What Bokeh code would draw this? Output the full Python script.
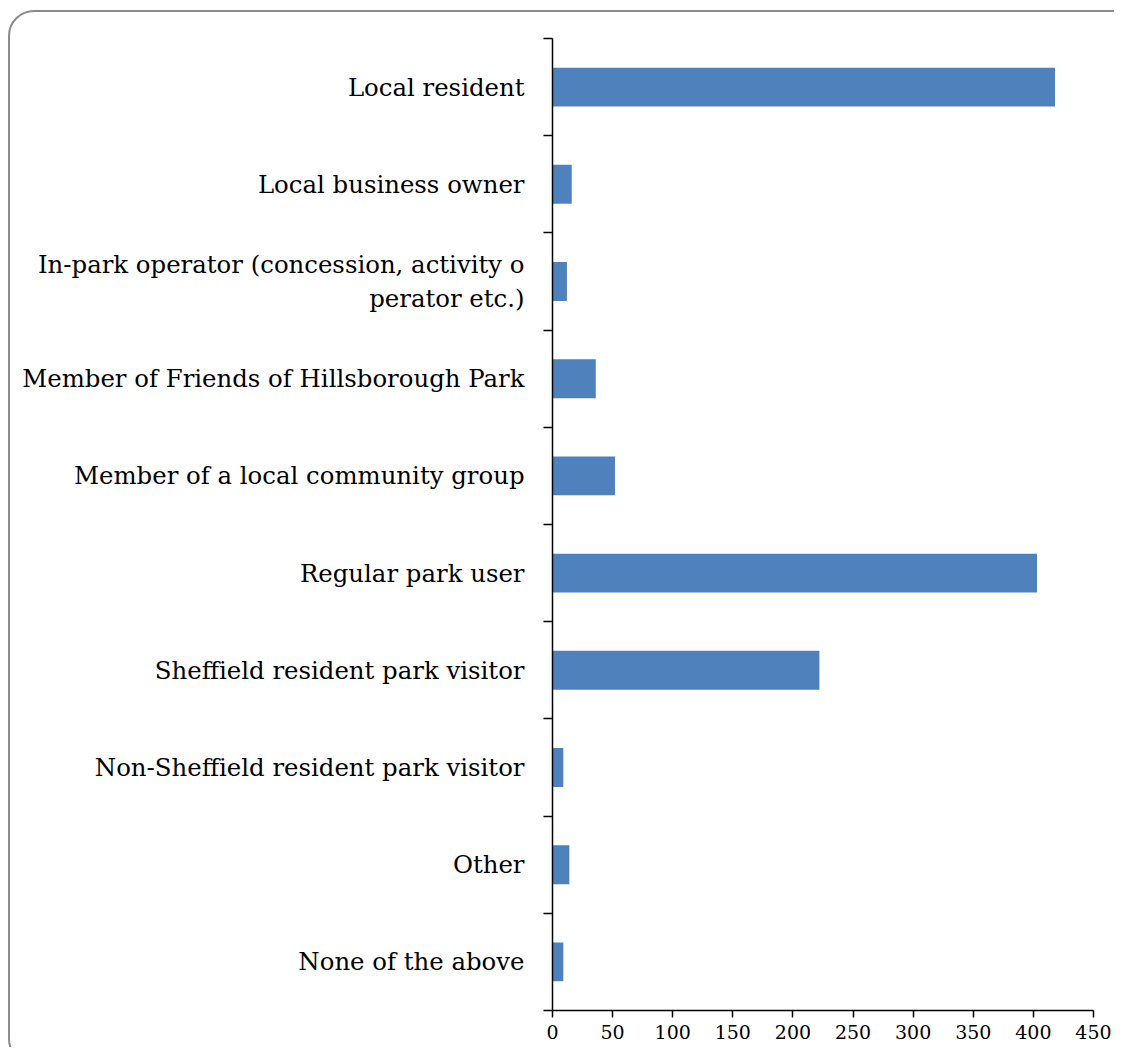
from bokeh.plotting import figure
from bokeh.models import Range1d, FixedTicker, ColumnDataSource
from bokeh.embed import file_html
from bokeh.resources import INLINE

categories = [
    "Local resident",
    "Local business owner",
    "In-park operator (concession, activity o\nperator etc.)",
    "Member of Friends of Hillsborough Park",
    "Member of a local community group",
    "Regular park user",
    "Sheffield resident park visitor",
    "Non-Sheffield resident park visitor",
    "Other",
    "None of the above",
]
counts = [418, 16, 12, 36, 52, 403, 222, 9, 14, 9]
x_ticks = [0, 50, 100, 150, 200, 250, 300, 350, 400, 450]

n = len(categories)
ypos = [n - i - 0.5 for i in range(n)]

W, H = 1114, 1047
p = figure(width=W, height=H, output_backend="svg", toolbar_location=None,
           x_range=Range1d(0, 450), y_range=Range1d(0, n),
           min_border_left=552, min_border_right=21, min_border_top=38, min_border_bottom=37)
p.outline_line_color = None
p.border_fill_color = None
p.background_fill_color = None
p.xgrid.visible = False
p.ygrid.visible = False

frame_svg = ("data:image/svg+xml;utf8,<svg xmlns='http://www.w3.org/2000/svg' "
             "width='1114' height='1047'><rect x='9' y='11' width='1136' height='1053' "
             "rx='25' ry='25' fill='none' stroke='%238c8c8c' stroke-width='2'/></svg>")
p.styles = {
    "background-image": f'url("{frame_svg}")',
    "background-repeat": "no-repeat",
    "background-color": "white",
}

src = ColumnDataSource(dict(y=ypos, right=counts))
p.hbar(y="y", right="right", left=0, height=0.4, source=src,
       fill_color="#4F81BD", line_color=None)

FONT = "DejaVu Serif"
yax = p.yaxis[0]
yax.ticker = FixedTicker(ticks=ypos, minor_ticks=list(range(n + 1)))
yax.major_label_overrides = {y: c for y, c in zip(ypos, categories)}
yax.major_tick_line_color = None
yax.major_tick_out = 0
yax.major_tick_in = 0
yax.minor_tick_line_color = "black"
yax.minor_tick_line_width = 1.5
yax.minor_tick_out = 9
yax.minor_tick_in = 0
yax.axis_line_color = "black"
yax.axis_line_width = 1.5
yax.major_label_standoff = 19
yax.major_label_text_font = FONT
yax.major_label_text_font_size = "24.4px"
yax.major_label_text_color = "black"

xax = p.xaxis[0]
xax.ticker = FixedTicker(ticks=x_ticks, minor_ticks=[])
xax.major_tick_line_color = "black"
xax.major_tick_line_width = 1.5
xax.major_tick_out = 7
xax.major_tick_in = 0
xax.minor_tick_line_color = None
xax.axis_line_color = "black"
xax.axis_line_width = 1.5
xax.major_label_standoff = 7
xax.major_label_text_font = FONT
xax.major_label_text_font_size = "19px"
xax.major_label_text_color = "black"

open("out.html", "w").write(file_html(p, INLINE))
